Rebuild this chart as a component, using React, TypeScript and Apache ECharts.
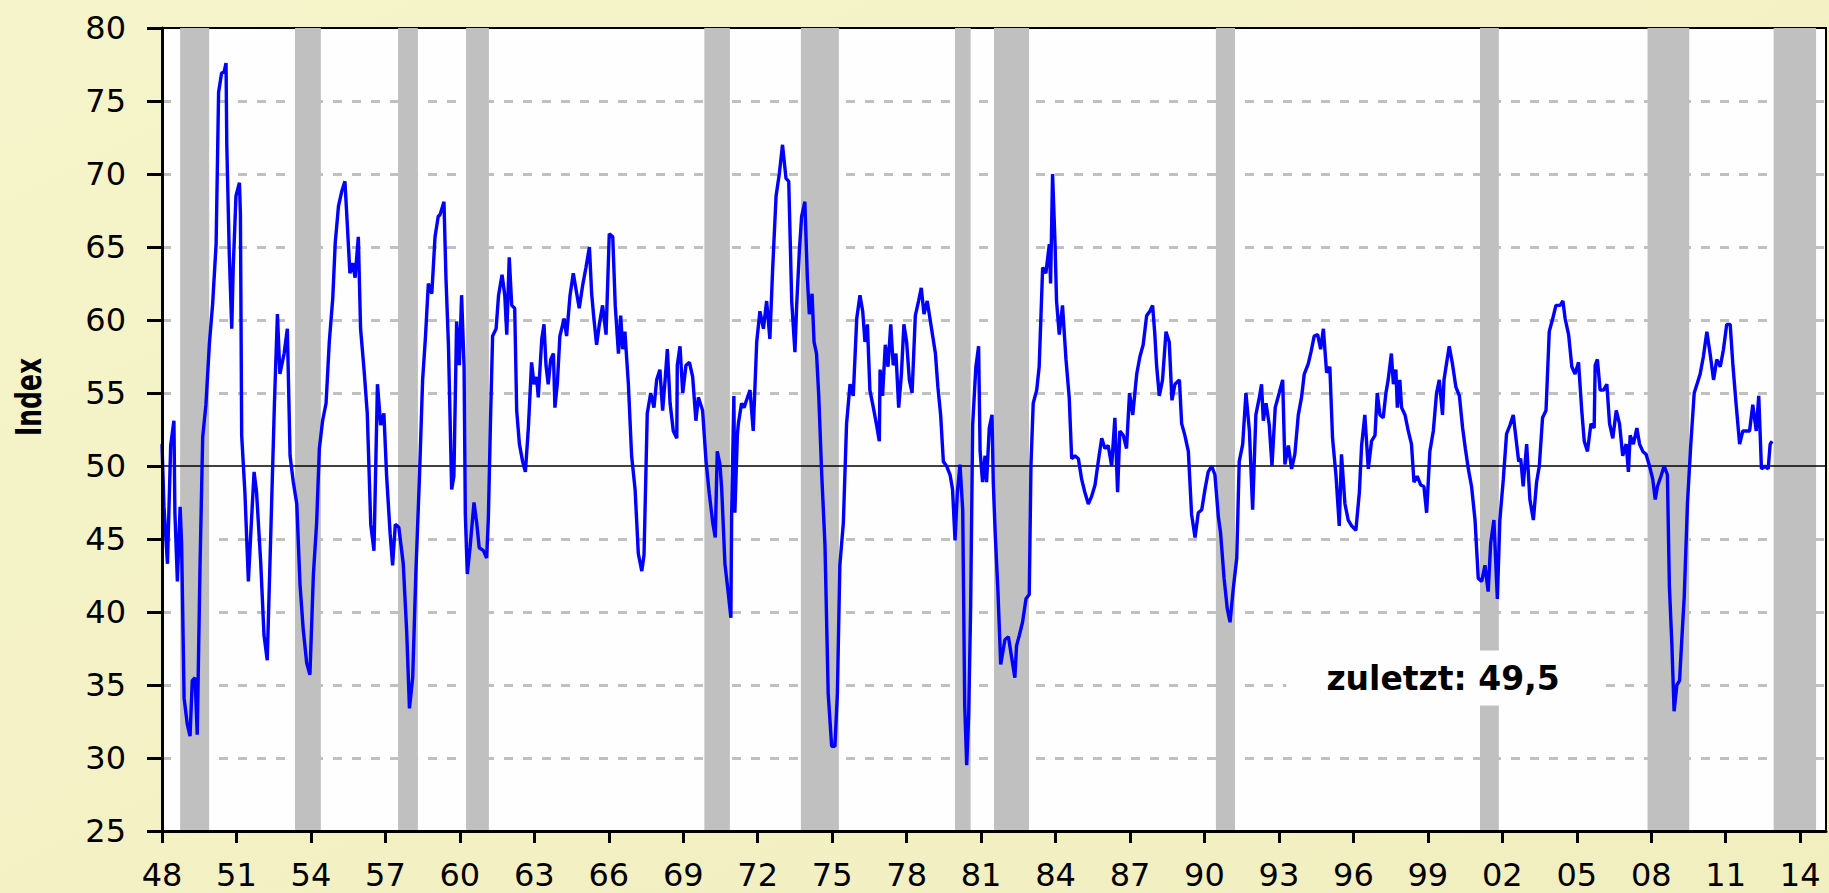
import React, { useEffect, useRef } from "react";
import * as echarts from "echarts";

// x = years after 1900 (decimal)
const yearOffset = [
  48.00, 48.08, 48.22, 48.35, 48.48, 48.52, 48.62, 48.73, 48.79, 48.89, 49.02, 49.13, 49.22, 49.33, 49.42, 49.53, 49.64, 49.77, 49.91,
  50.04, 50.18, 50.28, 50.40, 50.50, 50.58, 50.61, 50.71, 50.81, 50.87, 50.98, 51.12, 51.16, 51.21, 51.34, 51.48, 51.59, 51.71, 51.81, 51.98,
  52.11, 52.24, 52.39, 52.53, 52.65, 52.75, 52.92, 53.05, 53.16, 53.29, 53.43, 53.56, 53.69, 53.83, 53.96, 54.10, 54.23, 54.34, 54.47,
  54.61, 54.74, 54.88, 54.98, 55.11, 55.24, 55.37, 55.47, 55.57, 55.68, 55.78, 55.91, 56.00, 56.14, 56.27, 56.41, 56.54, 56.68, 56.81,
  56.94, 57.05, 57.19, 57.29, 57.40, 57.54, 57.72, 57.86, 57.97, 58.10, 58.23, 58.37, 58.50, 58.61, 58.73, 58.87, 59.00, 59.13,
  59.20, 59.36, 59.44, 59.54, 59.67, 59.76, 59.87, 59.98, 60.07, 60.17, 60.22, 60.30, 60.41, 60.57, 60.68, 60.78, 60.95, 61.08, 61.15,
  61.24, 61.32, 61.46, 61.56, 61.70, 61.81, 61.89, 61.99, 62.09, 62.21, 62.29, 62.40, 62.53, 62.64, 62.76, 62.89, 62.99, 63.09, 63.16,
  63.30, 63.39, 63.47, 63.56, 63.66, 63.77, 63.83, 63.93, 64.03, 64.20, 64.30, 64.44, 64.57, 64.71, 64.81, 64.95, 65.08, 65.22, 65.31,
  65.40, 65.51, 65.62, 65.75, 65.89, 66.02, 66.16, 66.26, 66.39, 66.48, 66.56, 66.65, 66.79, 66.92, 67.06, 67.19, 67.33, 67.42, 67.55,
  67.69, 67.82, 67.93, 68.06, 68.17, 68.27, 68.36, 68.47, 68.60, 68.74, 68.76, 68.87, 68.98, 69.11, 69.25, 69.38, 69.51, 69.61, 69.78,
  69.92, 70.05, 70.19, 70.29, 70.37,
  70.48, 70.55, 70.68, 70.82, 70.92, 70.95, 71.04, 71.08, 71.18, 71.22, 71.35, 71.45, 71.55, 71.69, 71.82, 71.96, 72.09, 72.23, 72.36,
  72.49, 72.60, 72.74, 72.87, 73.00, 73.14, 73.25, 73.37, 73.50, 73.57, 73.68, 73.77, 73.90, 74.00, 74.08, 74.19, 74.27, 74.37, 74.46,
  74.58, 74.71, 74.84, 74.98, 75.11, 75.21, 75.31, 75.45, 75.58, 75.72, 75.85, 75.99, 76.12, 76.23, 76.32, 76.42, 76.52, 76.66, 76.79,
  76.90, 76.93, 77.03, 77.14, 77.25, 77.36, 77.46, 77.57, 77.68, 77.79, 77.89, 78.00, 78.11, 78.22, 78.35, 78.48, 78.59, 78.70, 78.83,
  78.94, 79.05, 79.16, 79.26, 79.37, 79.48, 79.61, 79.75, 79.85, 79.95, 80.04, 80.15, 80.26, 80.34, 80.42, 80.50, 80.58, 80.66, 80.79,
  80.90, 80.96, 81.06, 81.16, 81.22, 81.33, 81.44, 81.49, 81.57, 81.68, 81.79,
  81.96, 82.10, 82.23, 82.36, 82.43, 82.54, 82.67, 82.81, 82.94, 83.01, 83.10, 83.24, 83.34, 83.48, 83.61, 83.75, 83.80, 83.88, 83.98,
  84.04, 84.15, 84.28, 84.42, 84.55, 84.65, 84.78, 84.92, 85.05, 85.18, 85.32, 85.45, 85.59, 85.72, 85.86, 85.99, 86.12, 86.26, 86.39,
  86.50, 86.59, 86.73, 86.86, 86.98, 87.11, 87.27, 87.40, 87.53, 87.67, 87.80, 87.91, 88.00, 88.07, 88.18, 88.31, 88.45, 88.58, 88.69,
  88.81, 88.99, 89.08, 89.21, 89.35, 89.48, 89.62, 89.75, 89.89, 90.02, 90.15, 90.29, 90.42, 90.56, 90.65, 90.79, 90.92, 91.03, 91.16,
  91.30, 91.40, 91.54, 91.67, 91.81, 91.94, 92.07, 92.21, 92.30, 92.37, 92.48, 92.61, 92.72, 92.85, 93.01, 93.15,
  93.24, 93.38, 93.51, 93.64, 93.78, 93.91, 94.02, 94.18, 94.29, 94.42, 94.56, 94.68, 94.79, 94.92, 95.05, 95.16, 95.30, 95.43, 95.52,
  95.66, 95.79, 95.93, 96.10, 96.24, 96.33, 96.46, 96.60, 96.73, 96.87, 96.96, 97.07, 97.20, 97.31, 97.40, 97.53, 97.61, 97.71, 97.77,
  97.87, 97.94, 98.08, 98.21, 98.34, 98.44, 98.57, 98.71, 98.84, 98.95, 99.08, 99.22, 99.35, 99.46, 99.59, 99.65, 99.75, 99.86, 99.98,
  100.13, 100.27, 100.40, 100.51, 100.63, 100.76, 100.90, 101.03, 101.17, 101.30, 101.43, 101.53, 101.66, 101.80, 101.90, 102.04,
  102.17, 102.31, 102.44, 102.55, 102.66, 102.74, 102.84, 102.98, 103.11, 103.25, 103.38, 103.49, 103.62, 103.76, 103.89, 104.03, 104.16,
  104.33, 104.44, 104.53, 104.67, 104.80, 104.93, 105.07, 105.20, 105.30, 105.43, 105.57, 105.70, 105.74, 105.83, 105.94, 106.08,
  106.21, 106.32, 106.45, 106.59, 106.72, 106.85, 106.99, 107.08, 107.15, 107.28, 107.42, 107.53, 107.66, 107.79, 107.93, 108.06,
  108.16, 108.25, 108.39, 108.52, 108.65, 108.73, 108.83, 108.92, 109.03, 109.14, 109.23, 109.33, 109.46, 109.59, 109.73, 109.86,
  109.97, 110.10, 110.24, 110.37, 110.51, 110.64, 110.78, 110.91, 111.04, 111.18, 111.29, 111.42, 111.56, 111.69, 111.82, 111.96,
  112.09, 112.23, 112.33, 112.44, 112.58, 112.71, 112.79, 112.87,
];

const indexValues = [
  51.5, 47.2, 43.3, 51.4, 53.1, 46.8, 42.1, 47.2, 44.7, 34.1, 32.3, 31.5, 35.3, 35.5, 31.6, 43.0, 52.0, 54.2, 58.4,
  61.1, 65.2, 75.6, 76.9, 77.0, 77.6, 72.0, 64.6, 59.4, 63.6, 68.5, 69.4, 67.2, 52.1, 48.2, 42.1, 45.8, 49.6, 48.2, 43.3,
  38.4, 36.7, 45.8, 54.3, 60.4, 56.3, 57.7, 59.4, 50.7, 48.9, 47.4, 41.9, 38.8, 36.5, 35.7, 42.6, 46.1, 51.2, 53.1,
  54.3, 58.5, 61.5, 65.3, 67.8, 68.8, 69.5, 66.4, 63.2, 63.9, 62.9, 65.7, 59.4, 56.6, 53.6, 46.0, 44.2, 55.6, 52.8,
  53.6, 49.3, 45.4, 43.2, 46.0, 45.8, 43.3, 38.6, 33.4, 35.5, 42.8, 49.1, 55.9, 58.7, 62.5, 61.8, 65.7, 67.1,
  67.2, 68.1, 62.9, 58.3, 48.4, 49.3, 59.9, 56.9, 61.7, 56.8, 46.7, 42.6, 44.4, 47.5, 46.1, 44.4, 44.2, 43.7, 46.5,
  53.5, 58.9, 59.4, 61.7, 63.1, 61.7, 59.0, 64.3, 61.0, 60.8, 53.8, 51.5, 50.3, 49.6, 52.6, 57.1, 55.6, 56.1, 54.7,
  58.7, 59.7, 56.9, 55.6, 57.3, 57.7, 54.0, 55.7, 58.9, 60.1, 58.9, 61.7, 63.2, 61.8, 60.8, 62.4, 63.6, 65.0, 61.8,
  60.1, 58.3, 59.7, 61.0, 59.0, 65.9, 65.7, 61.0, 57.7, 60.3, 58.0, 59.2, 55.6, 50.7, 48.4, 44.0, 42.8, 43.9, 53.6,
  55.0, 54.0, 55.9, 56.6, 53.8, 55.9, 58.0, 54.3, 52.4, 51.9, 56.9, 58.2, 55.0, 56.9, 57.1, 56.1, 53.1, 54.7, 53.8,
  50.3, 48.1, 46.1, 45.1, 51.0,
  50.1, 48.4, 43.3, 41.2, 39.6, 46.7, 54.8, 46.8, 52.1, 52.9, 54.3, 54.0, 54.5, 55.2, 52.4, 58.5, 60.6, 59.4, 61.3,
  58.7, 63.4, 68.5, 70.0, 72.0, 69.7, 69.5, 61.3, 57.8, 61.0, 64.8, 67.1, 68.1, 62.9, 60.4, 61.8, 58.5, 57.7, 54.8,
  49.4, 44.6, 34.4, 30.8, 30.8, 34.4, 43.2, 46.1, 52.9, 55.6, 54.8, 60.1, 61.7, 60.6, 58.5, 59.7, 55.2, 54.0, 52.8,
  51.7, 56.6, 54.8, 58.3, 56.8, 59.7, 56.9, 57.7, 54.0, 56.3, 59.7, 58.5, 55.9, 55.0, 60.3, 61.3, 62.2, 60.4, 61.3,
  60.1, 58.9, 57.7, 55.4, 53.5, 50.3, 50.0, 49.4, 48.4, 44.9, 48.1, 50.1, 47.0, 33.6, 29.5, 32.9, 40.4, 52.8, 56.8,
  58.2, 51.0, 48.9, 50.7, 48.9, 52.6, 53.5, 48.9, 45.3, 41.4, 36.4,
  38.1, 38.3, 36.9, 35.5, 37.7, 38.4, 39.3, 40.9, 41.2, 50.1, 54.3, 55.2, 56.8, 63.6, 63.2, 65.2, 62.5, 70.0, 65.2,
  61.3, 59.0, 61.0, 57.3, 54.7, 50.5, 50.7, 50.5, 49.1, 48.2, 47.4, 47.9, 48.7, 50.3, 51.9, 51.2, 51.4, 50.0, 53.3,
  48.2, 52.4, 52.1, 51.2, 55.0, 53.5, 56.3, 57.5, 58.3, 60.3, 60.6, 61.0, 59.0, 56.9, 54.8, 55.9, 59.2, 58.5, 54.5,
  55.6, 55.9, 52.9, 52.1, 51.0, 46.7, 45.1, 46.8, 47.0, 48.4, 49.6, 50.0, 49.4, 46.5, 45.4, 42.3, 40.2, 39.3, 41.6,
  43.7, 50.3, 51.5, 55.0, 52.4, 47.0, 53.5, 54.7, 55.6, 53.1, 54.3, 52.8, 50.0, 54.0, 55.0, 55.9,
  50.1, 51.4, 49.8, 50.8, 53.5, 54.7, 56.3, 57.0, 57.8, 58.9, 59.0, 58.0, 59.4, 56.4, 56.8, 51.9, 49.3, 45.9, 50.8,
  47.4, 46.3, 45.9, 45.6, 48.2, 51.4, 53.5, 49.8, 51.7, 52.1, 55.0, 53.5, 53.3, 55.0, 55.9, 57.7, 55.6, 56.6, 54.0,
  55.9, 54.0, 53.5, 52.4, 51.5, 48.9, 49.3, 48.7, 48.6, 46.8, 51.0, 52.4, 55.0, 55.9, 53.5, 55.9, 57.0, 58.2, 57.1,
  55.4, 54.8, 52.6, 51.2, 49.8, 48.6, 46.3, 42.3, 42.1, 43.2, 41.4, 44.7, 46.3, 40.9, 46.3, 49.1,
  52.2, 52.8, 53.5, 51.9, 50.3, 50.5, 48.6, 51.5, 47.7, 46.3, 48.9, 50.0, 53.3, 53.8, 59.2, 60.1, 61.0,
  61.0, 61.3, 60.1, 59.0, 56.8, 56.3, 57.1, 53.8, 51.7, 51.0, 52.9, 52.6, 56.9, 57.3, 55.2, 55.2,
  55.6, 52.9, 51.9, 53.8, 52.9, 50.7, 51.5, 49.6, 52.1, 51.5, 52.6, 51.5, 51.0, 50.8, 50.0, 49.1,
  47.7, 48.6, 49.3, 50.0, 49.4, 41.8, 37.8, 33.2, 35.0, 35.3, 38.1, 41.1, 47.5, 51.4, 55.0, 55.7,
  56.3, 57.5, 59.2, 57.7, 55.9, 57.3, 56.8, 58.0, 59.7, 59.7, 56.9, 54.2, 51.5, 52.4, 52.4, 52.4,
  54.2, 52.4, 54.8, 49.8, 50.0, 49.8, 51.5, 51.7,
];

// recession periods (shaded), years after 1900
const recessionStart = [48.73, 53.36, 57.51, 60.25, 69.85, 73.74, 79.95, 81.52, 90.46, 101.10, 107.85, 112.93];
const recessionEnd = [49.90, 54.40, 58.31, 61.17, 70.88, 75.27, 80.58, 82.93, 91.23, 101.86, 109.53, 114.64];

const xTickYears = [48, 51, 54, 57, 60, 63, 66, 69, 72, 75, 78, 81, 84, 87, 90, 93, 96, 99, 102, 105, 108, 111, 114];
const gridLineValues = [30, 35, 40, 45, 55, 60, 65, 70, 75];
const thresholdValue = 50;
const yAxisTitle = "Index";
const lastValueLabel = "zuletzt: 49,5";

export default function App() {
  const ref = useRef<HTMLDivElement>(null);

  useEffect(() => {
    if (!ref.current) return;
    const chart = echarts.init(ref.current, undefined, { renderer: "svg" });
    const lineData = yearOffset.map((x, i) => [x, indexValues[i]]);
    const bands = recessionStart.map((s, i) => [{ xAxis: s }, { xAxis: recessionEnd[i] }]);

    chart.setOption({
      animation: false,
      backgroundColor: new echarts.graphic.LinearGradient(0, 0, 1, 1, [
        { offset: 0, color: "#f6f4ca" },
        { offset: 1, color: "#f1eec0" },
      ]),
      grid: {
        left: 162,
        top: 28,
        width: 1664,
        height: 803,
        show: true,
        backgroundColor: "#fefefe",
        borderColor: "#000",
        borderWidth: 2,
      },
      xAxis: {
        type: "value",
        min: 48,
        max: 115.04,
        interval: 3,
        z: 10,
        axisLine: { show: true, lineStyle: { color: "#000", width: 3 } },
        axisTick: { show: true, customValues: xTickYears, length: 12, lineStyle: { color: "#000", width: 3 } },
        axisLabel: {
          customValues: xTickYears,
          formatter: (v: number) => String(Math.round(v) % 100).padStart(2, "0"),
          fontFamily: "DejaVu Sans",
          fontSize: 32,
          color: "#000",
          margin: 28,
        },
        splitLine: { show: false },
      },
      yAxis: {
        type: "value",
        min: 25,
        max: 80,
        interval: 5,
        z: 10,
        axisLine: { show: true, lineStyle: { color: "#000", width: 3 } },
        axisTick: { show: true, length: 15, lineStyle: { color: "#000", width: 3 } },
        axisLabel: { fontFamily: "DejaVu Sans", fontSize: 32, color: "#000", margin: 36 },
        splitLine: { show: false },
      },
      series: [
        {
          type: "line",
          data: [],
          z: 1,
          markLine: {
            z: 1,
            silent: true,
            symbol: "none",
            label: { show: false },
            lineStyle: { color: "#c0c0c0", width: 3, type: [9, 10] },
            data: gridLineValues.map((v) => ({ yAxis: v })),
          },
        },
        {
          type: "line",
          data: [],
          z: 2,
          markArea: {
            z: 2,
            silent: true,
            itemStyle: { color: "#c0c0c0", opacity: 1 },
            data: bands,
          },
        },
        {
          type: "line",
          data: [],
          z: 3,
          markLine: {
            z: 3,
            silent: true,
            symbol: "none",
            label: { show: false },
            lineStyle: { color: "#000", width: 1.5, type: "solid" },
            data: [{ yAxis: thresholdValue }],
          },
        },
        {
          type: "line",
          data: lineData,
          z: 4,
          showSymbol: false,
          symbol: "none",
          lineStyle: { color: "#0000ff", width: 3.4 },
        },
      ],
      graphic: [
        {
          type: "text",
          x: 29,
          y: 397,
          rotation: Math.PI / 2,
          scaleY: 1.4,
          z: 100,
          style: {
            text: yAxisTitle,
            fontFamily: "DejaVu Sans",
            fontWeight: "bold",
            fontSize: 25,
            fill: "#000",
            align: "center",
            verticalAlign: "middle",
          },
        },
        {
          type: "text",
          x: 1443,
          y: 678,
          z: 100,
          style: {
            text: lastValueLabel,
            fontFamily: "DejaVu Sans",
            fontWeight: "bold",
            fontSize: 33,
            fill: "#000",
            align: "center",
            verticalAlign: "middle",
            backgroundColor: "#fefefe",
            padding: [11, 40, 11, 40],
          },
        },
      ],
    });

    return () => chart.dispose();
  }, []);

  return (
    <div
      ref={ref}
      style={{ position: "fixed", left: 0, top: 0, width: 1829, height: 893 }}
    />
  );
}
